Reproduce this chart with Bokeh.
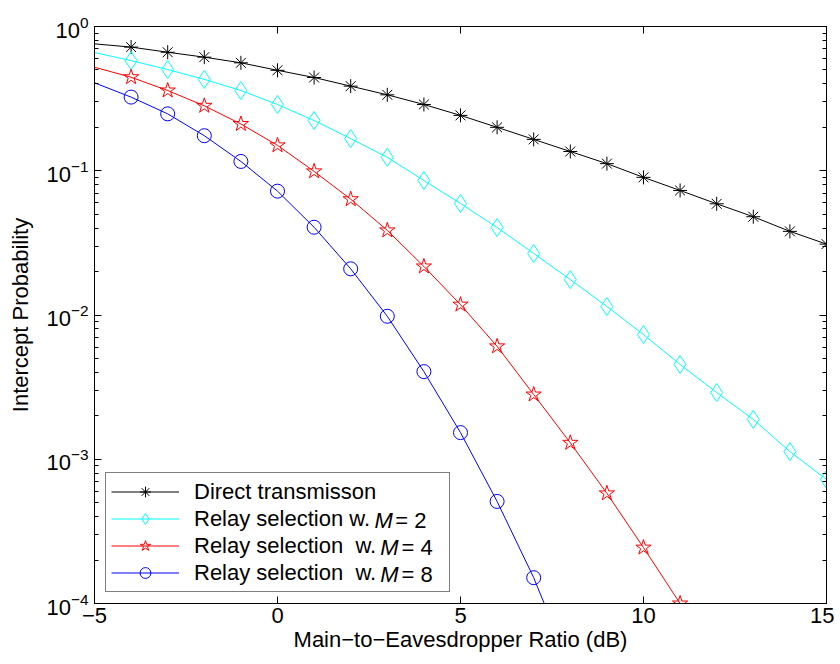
from bokeh.plotting import figure
from bokeh.models import (LogAxis, LinearAxis, Legend, LegendItem,
                          FixedTicker, Range1d, CustomJSTickFormatter)
from bokeh.core.properties import value
from bokeh.embed import file_html
from bokeh.resources import INLINE

# ---------------- data ----------------
snr = [-5, -4, -3, -2, -1, 0, 1, 2, 3, 4, 5, 6, 7, 8, 9, 10, 11, 12, 13, 14, 15]
direct = [0.758, 0.72, 0.663, 0.613, 0.56, 0.497, 0.443, 0.386, 0.336, 0.288, 0.242,
          0.200, 0.165, 0.136, 0.112, 0.090, 0.073, 0.059, 0.048, 0.038, 0.031]
relay_m2 = [0.66, 0.58, 0.503, 0.43, 0.36, 0.288, 0.223, 0.167, 0.124, 0.0856, 0.0593,
            0.0404, 0.0267, 0.0176, 0.01145, 0.00732, 0.00454, 0.0029, 0.00189, 0.00113, 0.000724]
snr_m4 = [-5, -4, -3, -2, -1, 0, 1, 2, 3, 4, 5, 6, 7, 8, 9, 10, 11]
relay_m4 = [0.522, 0.445, 0.36, 0.282, 0.211, 0.15, 0.099, 0.0635, 0.0386, 0.0217, 0.0118,
            0.00606, 0.00281, 0.0013, 0.00058, 0.000244, 0.0001]
snr_m8 = [-5, -4, -3, -2, -1, 0, 1, 2, 3, 4, 5, 6, 7, 8]
relay_m8 = [0.407, 0.324, 0.248, 0.175, 0.116, 0.0722, 0.0406, 0.0209, 0.0098, 0.00405,
            0.00153, 0.00051, 0.000151, 0.000036]

x_ticks = [-5, 0, 5, 10, 15]
y_ticks = [1e-4, 1e-3, 1e-2, 1e-1, 1e0]
y_minor = [m * d for d in [1e-4, 1e-3, 1e-2, 1e-1] for m in range(2, 10)]

legend_labels = ["Direct transmisson", "Relay selection w.", "Relay selection\u00a0\u00a0w.",
                 "Relay selection\u00a0\u00a0w."]
legend_m_values = ["2", "4", "8"]

FONT = "Liberation Sans"
FS = "22px"

p = figure(width=834, height=660, output_backend="svg", toolbar_location=None,
           x_range=Range1d(-5, 15), y_range=Range1d(1e-4, 1), y_axis_type="log",
           min_border_left=94, min_border_right=8, min_border_top=26, min_border_bottom=57)
p.grid.visible = False
p.outline_line_color = "black"
p.outline_line_width = 1
p.background_fill_color = "white"

# main lines + markers
colors = ["black", "#00FFFF", "#FF0000", "#0000FF"]
series = [(snr, direct, "asterisk", 14), (snr, relay_m2, "diamond", 18),
          (snr_m4, relay_m4, "star", 16), (snr_m8, relay_m8, "circle", 14)]
items = []
for (xs, ys, mk, sz), col, lab in zip(series, colors, legend_labels):
    r_line = p.line(xs, ys, line_color=col, line_width=1)
    r_mark = p.scatter(xs[1:], ys[1:], marker=mk, size=sz, line_color=col,
                       fill_color=None, line_width=1)
    items.append(LegendItem(label=lab, renderers=[r_line, r_mark]))

# axes styling
for ax in [p.xaxis[0], p.yaxis[0]]:
    ax.major_tick_in = 7
    ax.major_tick_out = 0
    ax.minor_tick_in = 4
    ax.minor_tick_out = 0
    ax.axis_line_color = "black"
    ax.major_label_text_font = FONT
    ax.major_label_text_font_size = FS
    ax.major_label_text_color = "black"
    ax.axis_label_text_font = FONT
    ax.axis_label_text_font_size = FS
    ax.axis_label_text_font_style = "normal"
    ax.axis_label_text_color = "black"

p.xaxis.ticker = FixedTicker(ticks=x_ticks)
p.xaxis.minor_tick_line_color = None
p.xaxis.major_label_overrides = {-5: "\u22125"}
p.xaxis.axis_label = "Main\u2212to\u2212Eavesdropper Ratio (dB)"
p.xaxis.axis_label_standoff = 1
p.xaxis.major_label_standoff = 4

p.yaxis.ticker = FixedTicker(ticks=y_ticks, minor_ticks=y_minor)
p.yaxis.axis_label = "Intercept Probability"
p.yaxis.axis_label_standoff = 10
p.yaxis.major_label_standoff = 6

# top and right box axes with ticks only (no labels)
blank = CustomJSTickFormatter(code="return '';")
top = LinearAxis(ticker=FixedTicker(ticks=x_ticks), formatter=blank, major_tick_in=7,
                 major_tick_out=0, minor_tick_line_color=None,
                 major_label_text_font_size="6px", major_label_standoff=0,
                 axis_line_color="black")
right = LogAxis(ticker=FixedTicker(ticks=y_ticks, minor_ticks=y_minor), formatter=blank,
                major_tick_in=7, major_tick_out=0, minor_tick_in=4, minor_tick_out=0,
                major_label_text_font_size="6px", major_label_standoff=0,
                axis_line_color="black")
p.add_layout(top, "above")
p.add_layout(right, "right")

# legend box is transparent (no curves pass behind it)
legend = Legend(items=items, location=(11, 11), orientation="vertical",
                label_text_font=FONT, label_text_font_size=FS, label_text_color="black",
                label_standoff=15, glyph_width=68, glyph_height=27, label_height=27,
                label_width=250, padding=5, spacing=0, margin=0,
                border_line_color="black", border_line_width=1,
                background_fill_color=None, background_fill_alpha=0.0)
p.add_layout(legend, "center")

# italic "M = n" parts of the legend texts, placed in data coordinates
m_x = [2.65, 2.81, 2.81]
eq_x = [3.22, 3.39, 3.39]
row_y = [3.79e-4, 2.464e-4, 1.601e-4]
eq_text = ["= " + mv for mv in legend_m_values]
p.text(x=m_x, y=row_y, text=["M", "M", "M"], text_font=value(FONT), text_font_size=FS,
       text_font_style="italic", text_baseline="middle", text_color="black")
p.text(x=eq_x, y=row_y, text=eq_text, text_font=value(FONT), text_font_size=FS,
       text_baseline="middle", text_color="black")

open("out.html", "w").write(file_html(p, INLINE))
